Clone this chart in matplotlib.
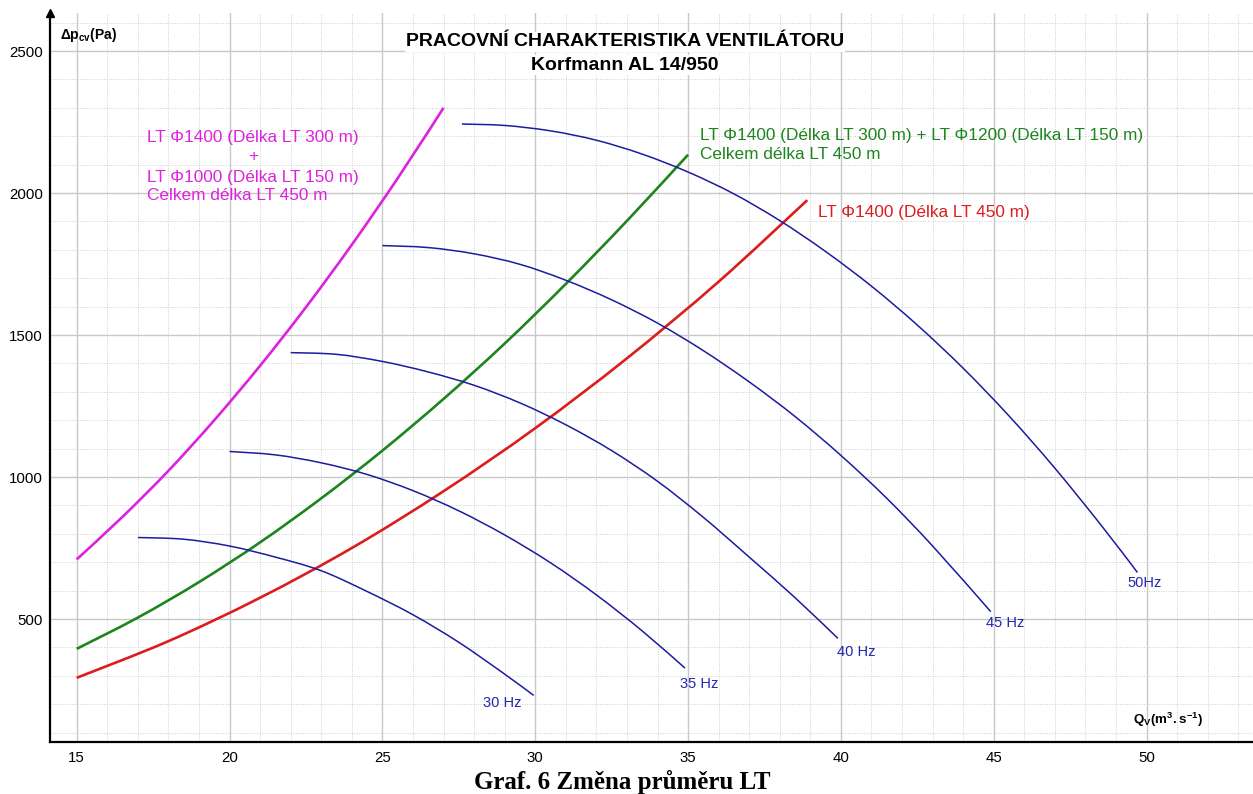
import matplotlib.pyplot as plt
import numpy as np
from matplotlib.path import Path
from matplotlib.patches import PathPatch

plt.rcParams["font.family"] = ["Liberation Sans", "DejaVu Sans"]
plt.rcParams["mathtext.fontset"] = "custom"
plt.rcParams["mathtext.rm"] = "Liberation Sans"
plt.rcParams["mathtext.bf"] = "Liberation Sans:bold"

# charakteristiky potrubi
q_mag = [15, 16.5, 18, 19.5, 21, 22.5, 24, 25.5, 27]
p_mag = [710, 860, 1022, 1200, 1392, 1598, 1818, 2052, 2300]

q_green = [15, 17, 19, 21, 23, 25, 27, 29, 31, 33, 35]
p_green = [395, 505, 630, 770, 925, 1093, 1275, 1470, 1680, 1902, 2135]

q_red = [15, 18, 21, 24, 27, 30, 33, 36, 38.9]
p_red = [293, 422, 575, 750, 950, 1172, 1418, 1688, 1975]

# charakteristiky ventilatoru pri ruznych frekvencich
q_50 = [27.6, 29.0, 30.5, 32.0, 33.5, 35.0, 36.5, 38.0, 39.5, 41.0, 42.5, 44.0, 45.5, 47.0, 48.5, 49.7]
p_50 = [2243, 2238, 2219, 2186, 2137, 2074, 1997, 1903, 1794, 1672, 1535, 1383, 1215, 1031, 832, 664]

q_45 = [25.0, 26.5, 28.0, 29.5, 31.0, 32.5, 34.0, 35.5, 37.0, 38.5, 40.0, 41.5, 43.0, 44.9]
p_45 = [1815, 1808, 1786, 1749, 1693, 1624, 1542, 1445, 1335, 1213, 1076, 925, 757, 526]

q_40 = [22.0, 23.5, 25.0, 26.5, 28.0, 29.5, 31.0, 32.5, 34.0, 35.5, 37.0, 38.5, 39.9]
p_40 = [1438, 1432, 1407, 1370, 1323, 1261, 1184, 1093, 985, 858, 718, 575, 432]

q_35 = [20.0, 21.5, 23.0, 24.5, 26.0, 27.5, 29.0, 30.5, 32.0, 33.5, 34.9]
p_35 = [1090, 1078, 1050, 1009, 952, 881, 796, 698, 585, 458, 327]

q_30 = [17.0, 18.5, 20.0, 21.5, 23.0, 24.5, 26.0, 27.5, 29.0, 29.95]
p_30 = [787, 781, 757, 718, 670, 597, 515, 418, 306, 231]

fan_q = [q_30, q_35, q_40, q_45, q_50]
fan_p = [p_30, p_35, p_40, p_45, p_50]
fan_labels = ["30 Hz", "35 Hz", "40 Hz", "45 Hz", "50Hz"]
fan_label_pos = [(28.30, 203), (34.74, 271), (39.86, 385), (44.74, 487), (49.37, 626)]

x_ticks = [15, 20, 25, 30, 35, 40, 45, 50]
y_ticks = [500, 1000, 1500, 2000, 2500]

blue = "#1c1c9e"
magenta = "#dd22dd"
green = "#1e841e"
red = "#dd1c1c"


def smooth_curve(ax, q, p, **kw):
    # hladka krivka pres odectene body (Catmull-Rom -> Bezier)
    pts = np.column_stack([q, p]).astype(float)
    verts = [pts[0]]
    codes = [Path.MOVETO]
    n = len(pts)
    for i in range(n - 1):
        p0 = pts[i - 1] if i > 0 else pts[i]
        p1 = pts[i]
        p2 = pts[i + 1]
        p3 = pts[i + 2] if i + 2 < n else pts[i + 1]
        verts += [p1 + (p2 - p0) / 6, p2 - (p3 - p1) / 6, p2]
        codes += [Path.CURVE4] * 3
    ax.add_patch(PathPatch(Path(verts, codes), fill=False, **kw))


fig = plt.figure(figsize=(12.53, 7.94), dpi=100)
ax = fig.add_axes([50 / 1253, 52.3 / 794, 1203 / 1253, 728.7 / 794])

ax.set_xlim(14.127, 53.48)
ax.set_ylim(68, 2634)

ax.set_xticks(x_ticks)
ax.set_yticks(y_ticks)
ax.set_xticks(np.arange(15, 54, 1), minor=True)
ax.set_yticks(np.arange(100, 2700, 100), minor=True)
ax.grid(which="major", color="#c8c8c8", linewidth=1.0, linestyle="-")
ax.grid(which="minor", color="#cfcfcf", linewidth=0.7, linestyle=(0, (1, 1.5)))
ax.set_axisbelow(True)
ax.tick_params(which="both", length=0)
ax.tick_params(axis="x", pad=7, labelsize=10.8)
ax.tick_params(axis="y", pad=5, labelsize=10.8)

for s in ["top", "right"]:
    ax.spines[s].set_visible(False)
for s in ["left", "bottom"]:
    ax.spines[s].set_linewidth(1.6)
ax.plot(0, 1, marker="^", color="black", markersize=6, transform=ax.transAxes, clip_on=False)

# potrubi
smooth_curve(ax, q_mag, p_mag, edgecolor=magenta, linewidth=1.9)
smooth_curve(ax, q_green, p_green, edgecolor=green, linewidth=1.9)
smooth_curve(ax, q_red, p_red, edgecolor=red, linewidth=1.9)

# ventilator
for q, p, lab, (lx, ly) in zip(fan_q, fan_p, fan_labels, fan_label_pos):
    smooth_curve(ax, q, p, edgecolor=blue, linewidth=1.1)
    ax.text(lx, ly, lab, color="#2424b0", fontsize=10.5, va="center", ha="left")

# popisky
ax.text(17.30, 2197, "LT Φ1400 (Délka LT 300 m)", color=magenta, fontsize=12.4, va="center")
ax.text(20.78, 2127, "+", color=magenta, fontsize=12.4, va="center", ha="center")
ax.text(17.30, 2056, "LT Φ1000 (Délka LT 150 m)", color=magenta, fontsize=12.4, va="center")
ax.text(17.30, 1993, "Celkem délka LT 450 m", color=magenta, fontsize=12.4, va="center")

ax.text(35.39, 2204, "LT Φ1400 (Délka LT 300 m) + LT Φ1200 (Délka LT 150 m)",
        color=green, fontsize=12.4, va="center")
ax.text(35.39, 2134, "Celkem délka LT 450 m", color=green, fontsize=12.4, va="center")

ax.text(39.25, 1930, "LT Φ1400 (Délka LT 450 m)", color=red, fontsize=12.4, va="center")

ax.text(14.45, 2556, r"$\mathbf{\Delta p_{cv}(Pa)}$", fontsize=10, va="center")
ax.text(49.56, 144, r"$\mathbf{Q_V(m^3.s^{-1})}$", fontsize=9.6, va="center")

fig.text(625 / 1253, 1 - 42 / 794, "PRACOVNÍ CHARAKTERISTIKA VENTILÁTORU", fontsize=14,
         weight="bold", ha="center", va="center",
         bbox=dict(facecolor="white", edgecolor="none", pad=1))
fig.text(625 / 1253, 1 - 65 / 794, "Korfmann AL 14/950", fontsize=14, weight="bold",
         ha="center", va="center", bbox=dict(facecolor="white", edgecolor="none", pad=1))

fig.text(622 / 1253, 1 - 782 / 794, "Graf. 6 Změna průměru LT", family="Liberation Serif",
         fontsize=18, weight="bold", ha="center", va="center")

fig.savefig("out.png", dpi=100)
